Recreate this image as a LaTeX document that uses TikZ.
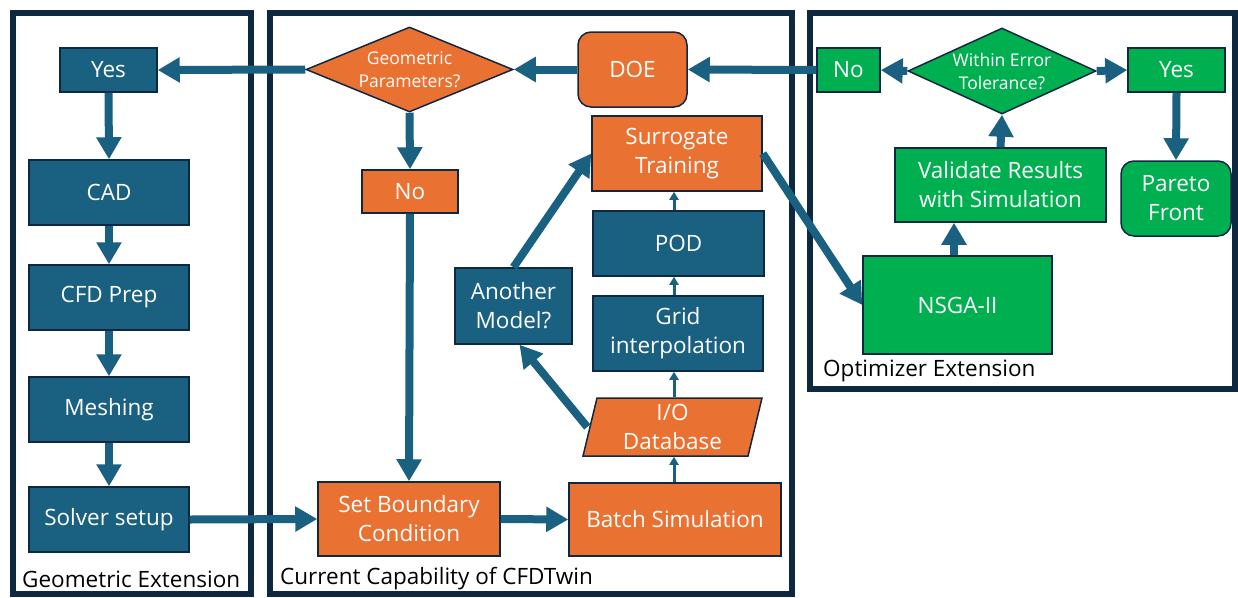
\documentclass[tikz,border=0pt]{standalone}
\usepackage{fontspec}
\setmainfont{Open Sans}
\usetikzlibrary{arrows.meta,shapes.geometric,calc}
\definecolor{cblue}{HTML}{196081}
\definecolor{corange}{HTML}{E97132}
\definecolor{cgreen}{HTML}{00B050}
\definecolor{cdark}{HTML}{0E2841}
\tikzset{
  box/.style={draw=cdark, line width=1.5pt, inner sep=0pt, align=center, text=white, font=\fontsize{22.5}{29}\selectfont},
  bbox/.style={box, fill=cblue},
  obox/.style={box, fill=corange},
  gbox/.style={box, fill=cgreen},
  dia/.style={diamond, draw=cdark, line width=1.5pt, inner sep=0pt, align=center, text=white, aspect=2.4, font=\fontsize{17.5}{23}\selectfont},
  thk/.style={draw=cblue, line width=8pt, -{Triangle[width=24pt,length=22pt]}},
  thn/.style={draw=cblue, line width=3pt, -{Triangle[width=9pt,length=8pt]}},
  panel/.style={draw=cdark, line width=6pt},
  plabel/.style={anchor=west, inner sep=0pt, text=black, font=\fontsize{22.5}{26}\selectfont}
}
\begin{document}
\begin{tikzpicture}[x=1pt,y=-1pt]
\useasboundingbox (0,0) rectangle (1238,597);
% panels
\draw[panel] (13,13) rectangle (251,594);
\draw[panel] (270,13) rectangle (791.5,594);
\draw[panel] (810,13) rectangle (1235,389);
\node[plabel] (lg) at (22,579) {Geometric Extension};
\node[plabel] (lc) at (280,579) {Current Capability of CFDTwin};
\node[plabel] (lo) at (823,371) {Optimizer Extension};
% left column
\node[bbox, minimum width=97pt, minimum height=44pt] (yes) at (108.5,70) {Yes};
\node[bbox, minimum width=160pt, minimum height=65pt] (cad) at (109,192.5) {CAD};
\node[bbox, minimum width=160pt, minimum height=65pt] (prep) at (109,297.5) {CFD Prep};
\node[bbox, minimum width=160pt, minimum height=65pt] (mesh) at (109,409.5) {Meshing};
\node[bbox, minimum width=160pt, minimum height=65pt] (solver) at (109,519.5) {Solver setup};
% middle
\node[dia, fill=corange, minimum width=207pt, minimum height=85pt] (geo) at (409.5,69.5) {Geometric\\Parameters?};
\node[obox, rounded corners=13pt, minimum width=109pt, minimum height=75pt] (doe) at (632.5,69.5) {DOE};
\node[obox, minimum width=96pt, minimum height=43pt] (noo) at (410,191.5) {No};
\node[obox, minimum width=170pt, minimum height=75pt] (sur) at (677,153.5) {Surrogate\\Training};
\node[bbox, minimum width=171pt, minimum height=65pt] (pod) at (678.5,243.5) {POD};
\node[bbox, minimum width=170pt, minimum height=75pt] (grid) at (678,333.5) {Grid\\interpolation};
\node[bbox, minimum width=117pt, minimum height=76pt] (ano) at (513.5,306) {Another\\Model?};
\fill[corange, draw=cdark, line width=1.5pt] (597,398) -- (762,398) -- (748,456) -- (583,456) -- cycle;
\node[box, draw=none, minimum width=165pt, minimum height=58pt] (io) at (672.5,427) {I/O\\Database};
\node[obox, minimum width=212pt, minimum height=73pt] (batch) at (675,519.5) {Batch Simulation};
\node[obox, minimum width=182pt, minimum height=74pt] (sbc) at (409,519) {Set Boundary\\Condition};
% right
\node[gbox, minimum width=63pt, minimum height=44pt] (nog) at (848.5,70) {No};
\node[dia, fill=cgreen, minimum width=188pt, minimum height=86pt] (wet) at (1002,71) {Within Error\\Tolerance?};
\node[gbox, minimum width=97pt, minimum height=44pt] (yesg) at (1176.5,70) {Yes};
\node[gbox, minimum width=211pt, minimum height=74pt] (val) at (1000.5,185) {Validate Results\\with Simulation};
\node[gbox, rounded corners=13pt, minimum width=110pt, minimum height=75pt] (par) at (1176,198.5) {Pareto\\Front};
\node[gbox, minimum width=189pt, minimum height=98pt] (nsga) at (957.5,305) {NSGA-II};
% connectors
\draw[thk] (yes.south) -- (cad.north);
\draw[thk] (cad.south) -- (prep.north);
\draw[thk] (prep.south) -- (mesh.north);
\draw[thk] (mesh.south) -- (solver.north);
\draw[thk] (geo.west) -- (yes.east);
\draw[thk] (doe.west) -- (geo.east);
\draw[thk] (nog.west) -- (doe.east);
\draw[thk] (geo.south) -- (noo.north);
\draw[thk] (noo.south) -- (sbc.north);
\draw[thk] (solver.east) -- (sbc.west);
\draw[thk] (sbc.east) -- (batch.west);
\draw[thn] ([xshift=-1pt]batch.north) -- ([xshift=-1pt]batch.north |- io.south);
\draw[thn] ([xshift=1.5pt]io.north) -- ([xshift=1.5pt]io.north |- grid.south);
\draw[thn] ([xshift=-4pt]grid.north) -- ([xshift=-4pt]grid.north |- pod.south);
\draw[thn] ([xshift=-4.5pt]pod.north) -- ([xshift=-4.5pt]pod.north |- sur.south);
\draw[thk] ([xshift=-2pt]io.west) -- ([xshift=6pt]ano.south);
\draw[thk] (ano.north) -- (sur.west);
\draw[thk] (sur.east) -- (nsga.west);
\draw[thk] ([xshift=-3.5pt]nsga.north) -- ([xshift=-3.5pt]nsga.north |- val.south);
\draw[thk] (val.north) -- (wet.south);
\draw[thk] (wet.west) -- (nog.east);
\draw[thk] (wet.east) -- (yesg.west);
\draw[thk] (yesg.south) -- (par.north);
\end{tikzpicture}
\end{document}
